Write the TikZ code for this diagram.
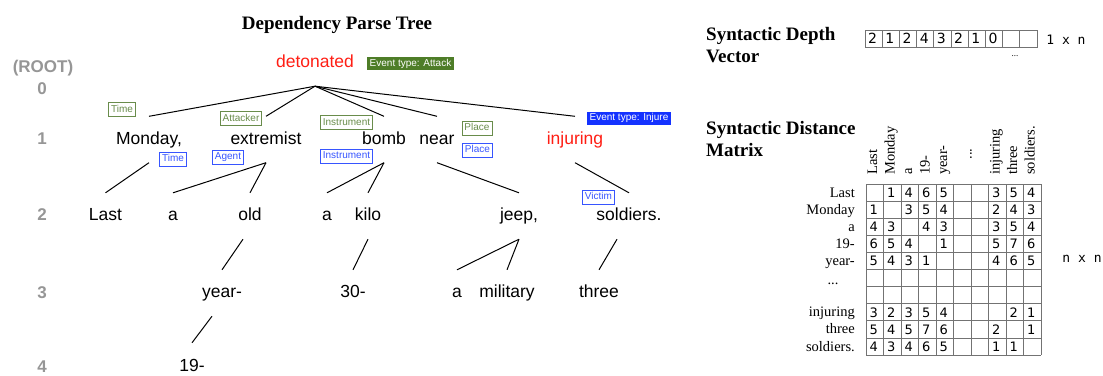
\documentclass[tikz,border=0pt]{standalone}
\usepackage{fontspec}
\setmainfont{Liberation Serif}
\setsansfont{Liberation Sans}
\newfontfamily\digitfont{DejaVu Sans}
\newfontfamily\dimfont{DejaVu Sans Mono}

\definecolor{headred}{RGB}{255,30,20}
\definecolor{levelgray}{RGB}{150,150,150}
\definecolor{rolegreen}{RGB}{105,140,75}
\definecolor{roleblue}{RGB}{55,85,255}
\definecolor{taggreen}{RGB}{78,125,40}
\definecolor{tagblue}{RGB}{20,50,255}

\begin{document}
\begin{tikzpicture}[x=1pt,y=-1pt,
        word/.style={font=\sffamily\fontsize{17.5}{20}\selectfont, inner sep=0pt,
                     minimum height=46pt, text height=12.5pt, text depth=3.5pt},
        level/.style={font=\sffamily\bfseries\fontsize{17}{20}\selectfont, text=levelgray, inner sep=0pt},
        role/.style={draw=rolegreen, text=rolegreen, line width=0.9pt,
                     font=\sffamily\fontsize{10}{12}\selectfont, inner xsep=2.5pt, inner ysep=2.2pt,
                     text height=7.5pt, text depth=2pt},
        argrole/.style={role, draw=roleblue, text=roleblue},
        evtag/.style={font=\sffamily\fontsize{10}{12}\selectfont, text=white, inner xsep=2.5pt,
                      inner ysep=1.75pt, text height=7.5pt, text depth=2pt},
        heading/.style={font=\bfseries\fontsize{19}{22}\selectfont, align=left, inner sep=0pt},
        cellnum/.style={font=\digitfont\fontsize{13}{13}\selectfont, inner sep=0pt},
        tick/.style={font=\fontsize{14.5}{16}\selectfont, inner sep=0pt},
        gridline/.style={draw=black!55, line width=0.8pt},
        edge/.style={line width=1pt}]
        \useasboundingbox (0,0) rectangle (1103,375);

        % parse tree
        \node[heading, anchor=base] (treetitle) at (337,29) {Dependency Parse Tree};

        \node[level] (lvlroot) at (43,68) {(ROOT)};
        \node[level] (lvl0) at (42,89) {0};
        \node[level] (lvl1) at (42,139) {1};
        \node[level] (lvl2) at (42,215) {2};
        \node[level] (lvl3) at (42,293) {3};
        \node[level] (lvl4) at (42,367) {4};

        \node[word, text=headred] (det) at (315,63) {detonated};
        \node[word] (monday) at (149,139.5) {Monday,};
        \node[word] (extremist) at (266,139.5) {extremist};
        \node[word] (bomb) at (384,139.5) {bomb};
        \node[word] (near) at (437,139.5) {near};
        \node[word, text=headred] (injuring) at (575,139.5) {injuring};

        \node[word] (last) at (105.5,216) {Last};
        \node[word] (a1) at (173,216) {a};
        \node[word] (old) at (250,216) {old};
        \node[word] (a2) at (327,216) {a};
        \node[word] (kilo) at (368,216) {kilo};
        \node[word] (jeep) at (519,216) {jeep,};
        \node[word] (soldiers) at (629,216) {soldiers.};

        \node[word] (year) at (222,293) {year-};
        \node[word] (thirty) at (353,293) {30-};
        \node[word] (a3) at (457,293) {a};
        \node[word] (military) at (507,293) {military};
        \node[word] (three) at (599,293) {three};

        \node[word] (nineteen) at (192,367) {19-};

        \foreach \w in {monday,extremist,bomb,near,injuring}
            \draw[edge] (det.south) -- (\w.north);
        \draw[edge] (monday.south) -- (last.north);
        \draw[edge] (extremist.south) -- (a1.north);
        \draw[edge] (extremist.south) -- (old.north);
        \draw[edge] (bomb.south) -- (a2.north);
        \draw[edge] (bomb.south) -- (kilo.north);
        \draw[edge] (near.south) -- (jeep.north);
        \draw[edge] (injuring.south) -- (soldiers.north);
        \draw[edge] ([xshift=-7pt]old.south) -- (year.north);
        \draw[edge] (kilo.south) -- (thirty.north);
        \draw[edge] (jeep.south) -- (a3.north);
        \draw[edge] (jeep.south) -- (military.north);
        \draw[edge] ([xshift=-12pt]soldiers.south) -- (three.north);
        \draw[edge] ([xshift=-10pt]year.south) -- ([yshift=1pt]nineteen.north);

        \node[evtag, fill=taggreen] (tagattack) at (410.5,63.5) {Event type: Attack};
        \node[evtag, fill=tagblue] (taginjure) at (629,118) {Event type: Injure};

        \node[role] (rtime) at (122,109.5) {Time};
        \node[role] (rattacker) at (241,118.5) {Attacker};
        \node[role] (rinstr) at (346.5,122.5) {Instrument};
        \node[role] (rplace) at (477,128) {Place};

        \node[argrole] (atime) at (173,159) {Time};
        \node[argrole] (aagent) at (228,157) {Agent};
        \node[argrole] (ainstr) at (346.5,156) {Instrument};
        \node[argrole] (aplace) at (477.5,150) {Place};
        \node[argrole] (avictim) at (598.5,197) {Victim};

        % depth vector
        \node[heading, anchor=base west] (depthtitle) at (706,62) {Syntactic Depth\\Vector};
        \draw[gridline] (865,30) rectangle (1037,47);
        \foreach \i in {1,...,9}
            \draw[gridline] (865+17.2*\i,30) -- (865+17.2*\i,47);
        \foreach \d [count=\i] in {2,1,2,4,3,2,1,0}
            \node[cellnum, font=\digitfont\fontsize{14}{14}\selectfont] (v\i) at (864+17.2*\i-8.6,38.5) {\d};
        \node[cellnum, font=\fontsize{9}{9}\selectfont] (vdots) at (1015,56) {...};
        \node[font=\dimfont\fontsize{13}{13}\selectfont, inner sep=0pt] (vdim) at (1066,40) {1 x n};

        % distance matrix
        \node[heading, anchor=base west] (disttitle) at (706,156) {Syntactic Distance\\Matrix};
        \foreach \i in {0,...,10} {
            \draw[gridline] (866+17.5*\i,184) -- (866+17.5*\i,355);
            \draw[gridline] (866,184+17.1*\i) -- (1041,184+17.1*\i);
        }
        \foreach \row/\lab in {1/Last,2/Monday,3/a,4/19-,5/year-,8/injuring,9/three,10/soldiers.} {
            \node[tick, anchor=base east] (rl\row) at (855,184+17.1*\row-4) {\lab};
            \node[tick, rotate=90, anchor=mid west] (cl\row) at (866+17.5*\row-8.75,175) {\lab};
        }
        \node[tick] (rldots) at (833,284) {...};
        \node[tick, rotate=90] (cldots) at (971,154) {...};
        \foreach \vals [count=\row] in {{,1,4,6,5,,,3,5,4},{1,,3,5,4,,,2,4,3},{4,3,,4,3,,,3,5,4},
                {6,5,4,,1,,,5,7,6},{5,4,3,1,,,,4,6,5},{,,,,,,,,,},{,,,,,,,,,},
                {3,2,3,5,4,,,,2,1},{5,4,5,7,6,,,2,,1},{4,3,4,6,5,,,1,1,}}
            \foreach \val [count=\col] in \vals {
                \ifx\val\empty\else
                    \node[cellnum] (m-\row-\col) at (865+17.5*\col-8.75,184+17.1*\row-8.3) {\val};
                \fi
            }
        \node[font=\dimfont\fontsize{13}{13}\selectfont, inner sep=0pt] (mdim) at (1082,259) {n x n};
\end{tikzpicture}
\end{document}
